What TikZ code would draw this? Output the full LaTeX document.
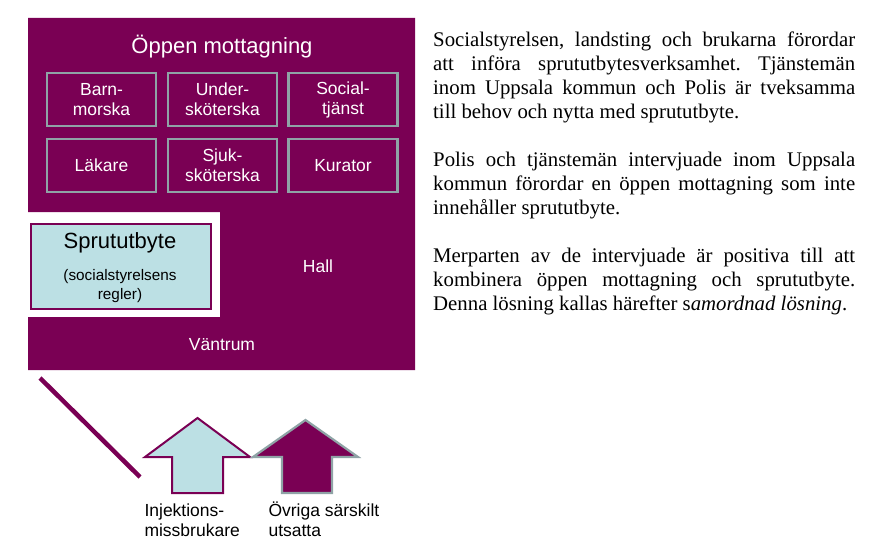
\documentclass[tikz,border=0pt]{standalone}
\usepackage{fontspec}
\setmainfont{Liberation Serif}
\setsansfont{Liberation Sans}
\definecolor{plum}{RGB}{122,0,84}
\definecolor{paleblue}{RGB}{188,224,228}
\definecolor{greyedge}{RGB}{143,163,166}
\begin{document}
\begin{tikzpicture}[x=1pt,y=-1pt,
  roombox/.style={draw=greyedge,line width=2.6pt,fill=plum,minimum width=109pt,minimum height=53pt,inner sep=0pt},
  roomtext/.style={text=white,font=\sffamily\fontsize{17.5}{20}\selectfont,align=center},
  bigtext/.style={font=\sffamily\fontsize{22}{26}\selectfont},
  arrowlbl/.style={font=\sffamily\fontsize{17.5}{19.5}\selectfont,align=left,anchor=base west}]
\useasboundingbox (0,0) rectangle (886,543);
% main purple area
\fill[plum] (28,18) -- (415,18) -- (415,370) -- (28,370) -- (28,317) -- (220,317) -- (220,212) -- (28,212) -- cycle;
\node[bigtext,text=white] (title) at (222,47) {Öppen mottagning};
% staff boxes
\node[roombox] (b1) at (101.5,99.5) {};
\node[roombox] (b2) at (222.5,99.5) {};
\node[roombox] (b3) at (343,99.5) {};
\node[roombox] (b4) at (101.5,165.5) {};
\node[roombox] (b5) at (222.5,165.5) {};
\node[roombox] (b6) at (343,165.5) {};
\node[roomtext] (t1) at (b1) {Barn-\\morska};
\node[roomtext] (t2) at (b2) {Under-\\sköterska};
\node[roomtext] (t3) at (b3) {Social-\\tjänst};
\node[roomtext] (t4) at (b4) {Läkare};
\node[roomtext] (t5) at (b5) {Sjuk-\\sköterska};
\node[roomtext] (t6) at (b6) {Kurator};
% sprututbyte
\node[draw=plum,line width=2pt,fill=paleblue,minimum width=180pt,minimum height=85pt,inner sep=0pt] (spr) at (120.5,266) {};
\node[bigtext] (sprt) at (120,243) {Sprututbyte};
\node[font=\sffamily\fontsize{15.3}{19}\selectfont,align=center] (sprs) at (120,286.5) {(socialstyrelsens\\regler)};
\node[roomtext] (hall) at (318,266) {Hall};
\node[roomtext] (vant) at (222,345) {Väntrum};
% diagonal line
\coordinate (d1) at (40,378);
\coordinate (d2) at (140,477);
\draw[plum,line width=4.5pt] (d1) -- (d2);
% arrows
\draw[plum,line width=2pt,fill=paleblue,line join=miter] (197.5,418) -- (250,457) -- (223,457) -- (223,493) -- (172,493) -- (172,457) -- (145,457) -- cycle;
\draw[greyedge,line width=2.2pt,fill=plum,line join=miter] (305.5,420) -- (358,457) -- (332,457) -- (332,493) -- (282,493) -- (282,457) -- (253,457) -- cycle;
\node[arrowlbl] (l1) at (141,536) {Injektions-\\missbrukare};
\node[arrowlbl] (l2) at (265,536) {Övriga särskilt\\utsatta};
% right text
\node[anchor=base west,inner sep=0pt] (txt) at (433,47) {\begin{minipage}[t]{422pt}
\fontsize{20.8}{24}\selectfont\frenchspacing\setlength{\parindent}{0pt}\setlength{\parskip}{24pt}%
Socialstyrelsen, landsting och brukarna förordar\linebreak
att införa sprututbytesverksamhet. Tjänstemän\linebreak
inom Uppsala kommun och Polis är tveksamma\linebreak
till behov och nytta med sprututbyte.

Polis och tjänstemän intervjuade inom Uppsala\linebreak
kommun förordar en öppen mottagning som inte\linebreak
innehåller sprututbyte.

Merparten av de intervjuade är positiva till att\linebreak
kombinera öppen mottagning och sprututbyte.\linebreak
Denna lösning kallas härefter s\textit{amordnad lösning}.
\end{minipage}};
\end{tikzpicture}
\end{document}
